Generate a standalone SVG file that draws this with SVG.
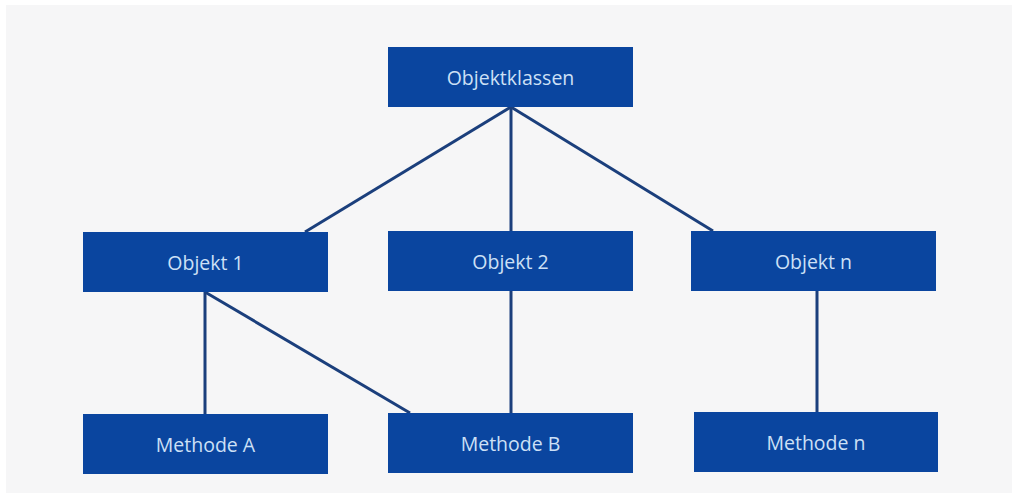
<svg xmlns="http://www.w3.org/2000/svg" width="1012" height="493" viewBox="0 0 1012 493">
<style>
.box{fill:#0a459f;}
.lbl{font-family:"Open Sans","Noto Sans",sans-serif;font-size:19.5px;fill:#cde0f6;text-anchor:middle;dominant-baseline:central;}
.con{stroke:#1b3f7c;stroke-width:3;fill:none;stroke-linecap:butt;}
</style>
<rect x="0" y="0" width="1012" height="493" fill="#ffffff"/>
<rect x="6" y="5" width="1006" height="488" fill="#f6f6f7"/>
<g id="connectors">
<line class="con" x1="511" y1="107" x2="305" y2="232"/>
<line class="con" x1="511" y1="107" x2="511" y2="231"/>
<line class="con" x1="511" y1="107" x2="713" y2="231"/>
<line class="con" x1="205" y1="292" x2="205" y2="414"/>
<line class="con" x1="205" y1="292" x2="410" y2="413"/>
<line class="con" x1="511" y1="291" x2="511" y2="413"/>
<line class="con" x1="817" y1="291" x2="817" y2="412"/>
</g>
<g id="objektklassen"><rect class="box" x="388" y="47" width="245" height="60"/><text class="lbl" x="510.5" y="77">Objektklassen</text></g>
<g id="objekt1"><rect class="box" x="83" y="232" width="245" height="60"/><text class="lbl" x="205.5" y="262">Objekt 1</text></g>
<g id="objekt2"><rect class="box" x="388" y="231" width="245" height="60"/><text class="lbl" x="510.5" y="261">Objekt 2</text></g>
<g id="objektn"><rect class="box" x="691" y="231" width="245" height="60"/><text class="lbl" x="813.5" y="261">Objekt n</text></g>
<g id="methodeA"><rect class="box" x="83" y="414" width="245" height="60"/><text class="lbl" x="205.5" y="444">Methode A</text></g>
<g id="methodeB"><rect class="box" x="388" y="413" width="245" height="60"/><text class="lbl" x="510.5" y="443">Methode B</text></g>
<g id="methoden"><rect class="box" x="694" y="412" width="244" height="60"/><text class="lbl" x="816" y="442">Methode n</text></g>
</svg>
